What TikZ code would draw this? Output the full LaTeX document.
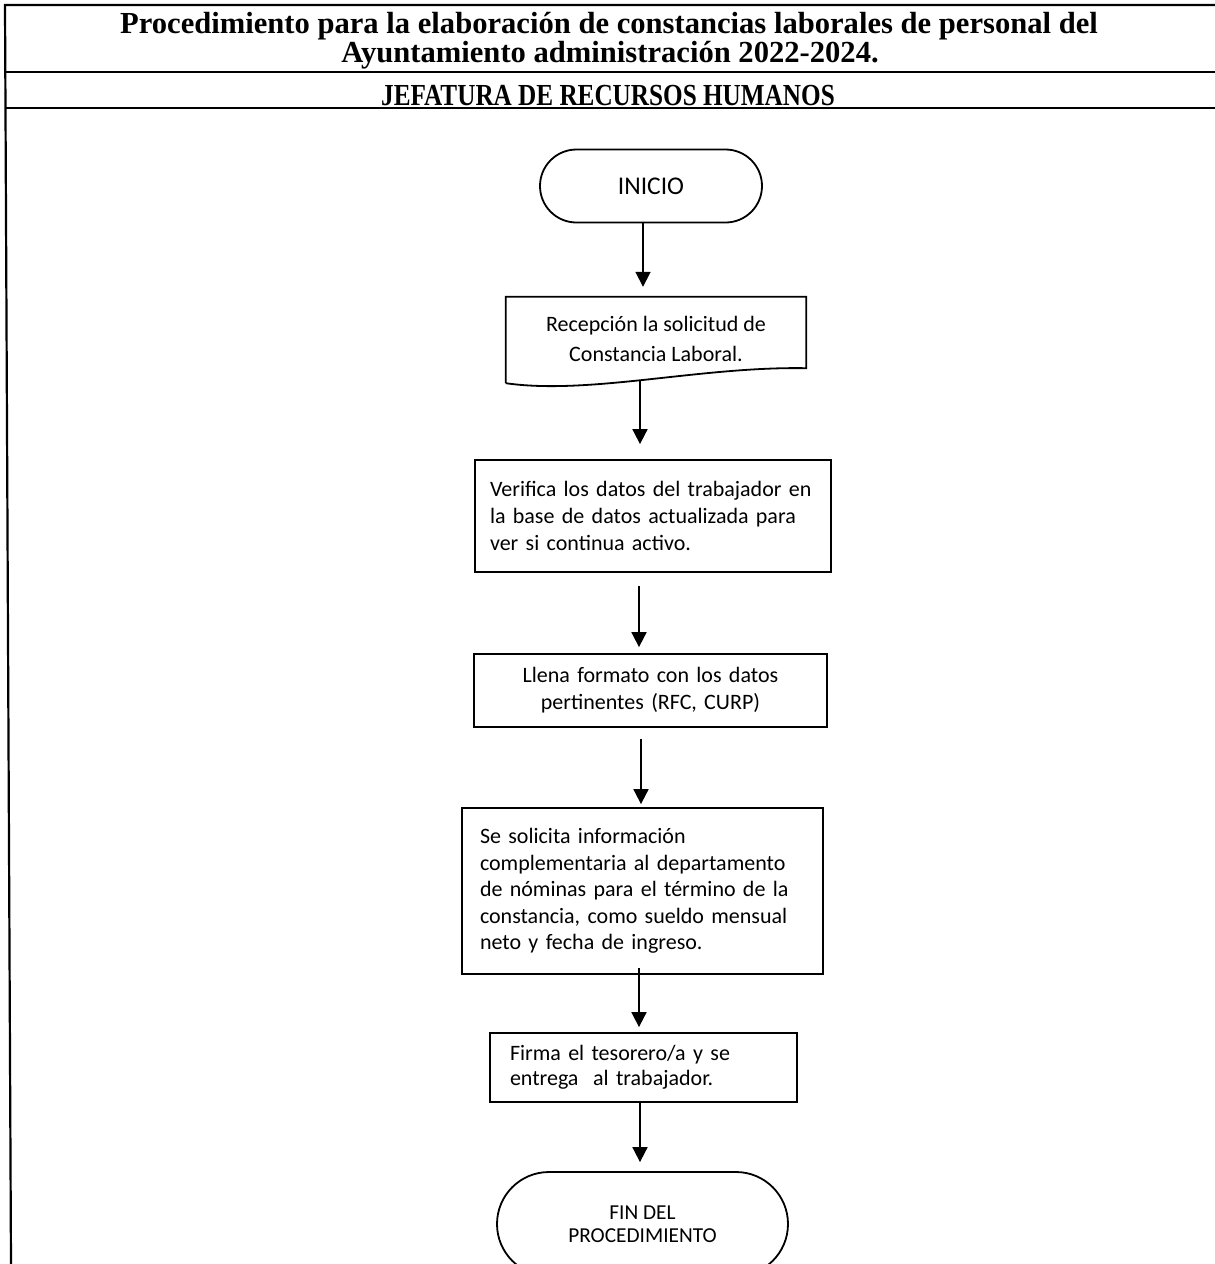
\documentclass[tikz,border=0pt]{standalone}
\usepackage{fontspec}
\setmainfont{Carlito}
\newfontfamily\titlefont{Liberation Serif}
\newfontfamily\titlenarrow[FakeStretch=0.824]{Liberation Serif}
\usetikzlibrary{arrows.meta,shapes.misc}

\begin{document}
\begin{tikzpicture}[x=1pt,y=-1pt,
  frame/.style={line width=2.2pt},
  titletext/.style={font=\titlefont\bfseries\fontsize{30.6}{34}\selectfont, inner sep=0pt, anchor=base},
  term/.style={rounded rectangle, draw, line width=1.8pt, align=center, inner sep=0pt},
  stepbox/.style={rectangle, draw, line width=1.8pt, inner ysep=0pt,
    font=\fontsize{22}{27}\selectfont},
  arr/.style={line width=1.8pt, -{Triangle[width=15pt,length=15pt]}},
]
\useasboundingbox (0,0) rectangle (1215,1264);
\clip (0,0) rectangle (1215,1264);
\fill[white] (0,0) rectangle (1215,1264);

% header frame
\draw[frame] (1215,5) -- (5,5) -- (11,1264);
\draw[frame] (5,72) -- (1215,72);
\draw[frame] (5,108) -- (1215,108);

\node[titletext] (t1) at (609,33) {Procedimiento para la elaboración de constancias laborales de personal del};
\node[titletext] (t2) at (610,62) {Ayuntamiento administración 2022-2024.};
\node[titletext, font=\titlenarrow\bfseries\fontsize{30.6}{34}\selectfont] (t3) at (608,105) {JEFATURA DE RECURSOS HUMANOS};

% flow
\node[term, minimum width=222pt, minimum height=73pt, font=\fontsize{25.5}{29}\selectfont]
  (inicio) at (651,186) {INICIO};

\node[rectangle, minimum width=300pt, minimum height=86pt, inner sep=0pt, align=center,
  font=\fontsize{22}{30}\selectfont]
  (b1) at (656,340) {\raisebox{3pt}{Recepción la solicitud de}\\\raisebox{3pt}{Constancia Laboral.}};
\draw[line width=1.8pt] (b1.south west) -- (b1.north west) -- (b1.north east)
  -- ([yshift=15pt]b1.south east)
  .. controls ([xshift=-106pt,yshift=17pt]b1.south east)
  and ([xshift=84pt,yshift=-12pt]b1.south west) .. (b1.south west);

\node[stepbox, align=left, text width=326pt, inner xsep=15pt, minimum height=112pt]
  (b2) at (653,516) {Verifica los datos del trabajador en\\la base de datos actualizada para\\ver si continua activo.};

\node[stepbox, align=center, text width=317pt, inner xsep=18pt, minimum height=73pt]
  (b3) at (650.5,690.5) {Llena formato con los datos\\pertinentes (RFC, CURP)};

\node[stepbox, align=left, text width=325pt, inner xsep=18pt, minimum height=166pt,
  font=\fontsize{22}{26.5}\selectfont]
  (b4) at (642.5,891) {Se solicita información\\complementaria al departamento\\de nóminas para el término de la\\constancia, como sueldo mensual\\neto y fecha de ingreso.};

\node[stepbox, align=left, text width=267pt, inner xsep=20pt, minimum height=69pt,
  font=\fontsize{22}{25}\selectfont]
  (b5) at (643.5,1067.5) {Firma el tesorero/a y se\\entrega\ \ al trabajador.};

\node[term, minimum width=291pt, minimum height=104pt, font=\fontsize{21.3}{23}\selectfont]
  (fin) at (642.5,1224) {FIN DEL\\PROCEDIMIENTO};

% connectors
\draw[arr, shorten >=10pt] ([xshift=-8pt]inicio.south) -- ([xshift=-13pt]b1.north);
\draw[arr, shorten >=15pt] ([xshift=-16pt,yshift=3pt]b1.south) -- ([xshift=-13pt]b2.north);
\draw[arr, shorten <=13pt, shorten >=6pt] ([xshift=-14pt]b2.south) -- ([xshift=-11.5pt]b3.north);
\draw[arr, shorten <=11pt, shorten >=3pt] ([xshift=-9.5pt]b3.south) -- ([xshift=-1.5pt]b4.north);
\draw[arr, shorten <=-7pt, shorten >=5pt] ([xshift=-3.5pt]b4.south) -- ([xshift=-4.5pt]b5.north);
\draw[arr, shorten >=9pt] ([xshift=-3.5pt]b5.south) -- ([xshift=-2.5pt]fin.north);
\end{tikzpicture}
\end{document}
